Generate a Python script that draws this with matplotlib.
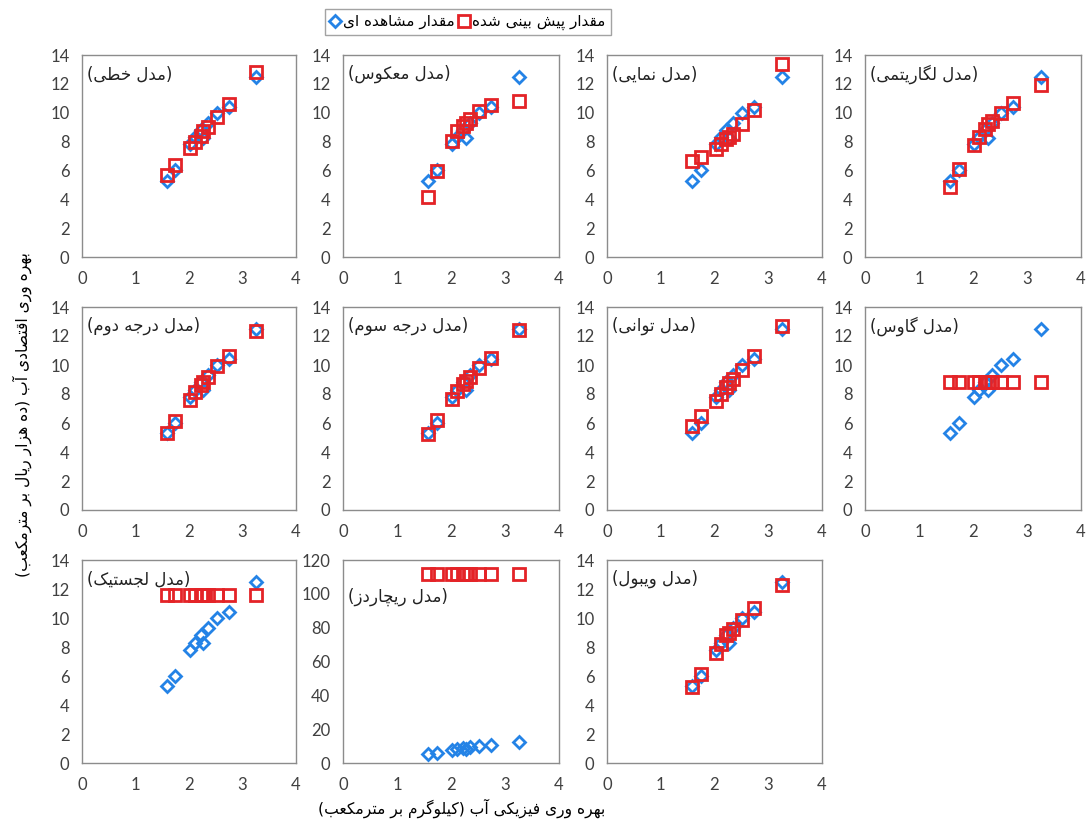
import matplotlib
matplotlib.use("Agg")
import matplotlib.pyplot as plt
from matplotlib.lines import Line2D

# contextual forms: isolated, final, initial, medial (right-joining letters have two)
FORMS = {
    'ا': ('\uFE8D', '\uFE8E'),
    'آ': ('\uFE81', '\uFE82'),
    'ب': ('\uFE8F', '\uFE90', '\uFE91', '\uFE92'),
    'پ': ('\uFB56', '\uFB57', '\uFB58', '\uFB59'),
    'ت': ('\uFE95', '\uFE96', '\uFE97', '\uFE98'),
    'ج': ('\uFE9D', '\uFE9E', '\uFE9F', '\uFEA0'),
    'چ': ('\uFB7A', '\uFB7B', '\uFB7C', '\uFB7D'),
    'خ': ('\uFEA5', '\uFEA6', '\uFEA7', '\uFEA8'),
    'د': ('\uFEA9', '\uFEAA'),
    'ر': ('\uFEAD', '\uFEAE'),
    'ز': ('\uFEAF', '\uFEB0'),
    'س': ('\uFEB1', '\uFEB2', '\uFEB3', '\uFEB4'),
    'ش': ('\uFEB5', '\uFEB6', '\uFEB7', '\uFEB8'),
    'ص': ('\uFEB9', '\uFEBA', '\uFEBB', '\uFEBC'),
    'ط': ('\uFEC1', '\uFEC2', '\uFEC3', '\uFEC4'),
    'ع': ('\uFEC9', '\uFECA', '\uFECB', '\uFECC'),
    'ف': ('\uFED1', '\uFED2', '\uFED3', '\uFED4'),
    'ق': ('\uFED5', '\uFED6', '\uFED7', '\uFED8'),
    'ک': ('\uFB8E', '\uFB8F', '\uFB90', '\uFB91'),
    'گ': ('\uFB92', '\uFB93', '\uFB94', '\uFB95'),
    'ل': ('\uFEDD', '\uFEDE', '\uFEDF', '\uFEE0'),
    'م': ('\uFEE1', '\uFEE2', '\uFEE3', '\uFEE4'),
    'ن': ('\uFEE5', '\uFEE6', '\uFEE7', '\uFEE8'),
    'و': ('\uFEED', '\uFEEE'),
    'ه': ('\uFEE9', '\uFEEA', '\uFEEB', '\uFEEC'),
    'ی': ('\uFBFC', '\uFBFD', '\uFBFE', '\uFBFF'),
}
MIRROR = {'(': ')', ')': '('}


def fa(text):
    """Shape Persian letters and return them in visual (left-to-right) order."""
    out = []
    for i, c in enumerate(text):
        f = FORMS.get(c)
        if f is None:
            out.append(c)
            continue
        prev = text[i - 1] if i > 0 else None
        nxt = text[i + 1] if i + 1 < len(text) else None
        jp = prev in FORMS and len(FORMS[prev]) == 4
        jn = len(f) == 4 and nxt in FORMS
        if jp and jn:
            out.append(f[3])
        elif jp:
            out.append(f[1])
        elif jn:
            out.append(f[2])
        else:
            out.append(f[0])
    return ''.join(MIRROR.get(c, c) for c in reversed(out))


# physical water productivity (x) and observed economic productivity (y)
x_obs = [1.58, 1.74, 2.02, 2.12, 2.22, 2.27, 2.35, 2.52, 2.74, 3.25]
y_obs = [5.3, 6.0, 7.8, 8.3, 8.8, 8.25, 9.3, 10.0, 10.4, 12.5]

model_names = [
    "مدل خطی", "مدل معکوس", "مدل نمایی", "مدل لگاریتمی",
    "مدل درجه دوم", "مدل درجه سوم", "مدل توانی", "مدل گاوس",
    "مدل لجستیک", "مدل ریچاردز", "مدل ویبول",
]

pred_linear = [5.7, 6.35, 7.55, 8.0, 8.4, 8.7, 9.0, 9.7, 10.6, 12.8]
pred_inverse = [4.15, 5.95, 8.05, 8.7, 9.05, 9.3, 9.55, 10.1, 10.55, 10.8]
pred_exponential = [6.65, 6.95, 7.5, 7.8, 8.15, 8.35, 8.55, 9.2, 10.2, 13.35]
pred_logarithmic = [4.85, 6.1, 7.75, 8.35, 8.9, 9.2, 9.45, 10.0, 10.65, 11.9]
pred_quadratic = [5.3, 6.15, 7.6, 8.15, 8.6, 8.85, 9.15, 9.9, 10.65, 12.35]
pred_cubic = [5.25, 6.2, 7.65, 8.2, 8.7, 8.9, 9.15, 9.8, 10.5, 12.4]
pred_power = [5.8, 6.45, 7.55, 8.0, 8.45, 8.75, 9.05, 9.65, 10.6, 12.7]
pred_gauss = [8.8, 8.8, 8.8, 8.8, 8.8, 8.8, 8.8, 8.8, 8.8, 8.8]
pred_logistic = [11.6, 11.6, 11.6, 11.6, 11.6, 11.6, 11.6, 11.6, 11.6, 11.6]
pred_richards = [112, 112, 112, 112, 112, 112, 112, 112, 112, 112]
pred_weibull = [5.25, 6.15, 7.6, 8.2, 8.8, 9.0, 9.25, 9.85, 10.7, 12.3]

predictions = [
    pred_linear, pred_inverse, pred_exponential, pred_logarithmic,
    pred_quadratic, pred_cubic, pred_power, pred_gauss,
    pred_logistic, pred_richards, pred_weibull,
]

BLUE = '#2483e6'
RED = '#e42327'
FA_FONT = ['DejaVu Sans']
NUM_FONT = ['Lato', 'DejaVu Sans']

W, H = 1086, 821
fig = plt.figure(figsize=(W / 100, H / 100), dpi=100, facecolor='white')

cols = [(82, 296), (343, 559), (607, 822), (865, 1081)]
rows = [(55, 257), (307, 510), (560, 763)]

for k, (name, pred) in enumerate(zip(model_names, predictions)):
    r, c = divmod(k, 4)
    x0, x1 = cols[c]
    y0, y1 = rows[r]
    ax = fig.add_axes([x0 / W, 1 - y1 / H, (x1 - x0) / W, (y1 - y0) / H])

    ax.plot(x_obs, y_obs, linestyle='none', marker='D', ms=6.5,
            mfc='none', mec=BLUE, mew=2, zorder=3)
    ax.plot(x_obs, pred, linestyle='none', marker='s', ms=8.5,
            mfc='none', mec=RED, mew=2, zorder=4)

    ax.set_xlim(0, 4)
    ax.set_xticks(range(0, 5))
    if name == "مدل ریچاردز":
        ax.set_ylim(0, 120)
        ax.set_yticks(range(0, 121, 20))
        ty = 0.82
    else:
        ax.set_ylim(0, 14)
        ax.set_yticks(range(0, 15, 2))
        ty = 0.905

    for s in ax.spines.values():
        s.set_color('#8c8c8c')
        s.set_linewidth(1)
    ax.tick_params(length=0, labelsize=12, colors='#404040', pad=9)
    ax.tick_params(axis='x', pad=10)
    for lab in ax.get_xticklabels() + ax.get_yticklabels():
        lab.set_family(NUM_FONT)

    ax.text(0.025, ty, fa("(" + name + ")"), transform=ax.transAxes,
            ha='left', va='center', fontsize=12, family=FA_FONT, color='#222222')

# legend across the top
handles = [
    Line2D([], [], linestyle='none', marker='D', ms=6, mfc='none', mec=BLUE, mew=2),
    Line2D([], [], linestyle='none', marker='s', ms=8, mfc='none', mec=RED, mew=2),
]
labels = [fa("مقدار مشاهده ای"), fa("مقدار پیش بینی شده")]
leg = fig.legend(handles, labels, ncol=2, loc='center',
                 bbox_to_anchor=(468 / W, 1 - 22 / H),
                 prop={'family': FA_FONT, 'size': 11},
                 frameon=True, fancybox=False, handlelength=0.6,
                 handletextpad=0.25, columnspacing=0.3, borderpad=0.35,
                 borderaxespad=0)
leg.get_frame().set_edgecolor('#8c8c8c')
leg.get_frame().set_linewidth(1)

fig.text(22 / W, 1 - 415 / H, fa("بهره وری اقتصادی آب (ده هزار ریال بر مترمکعب)"),
         rotation=90, ha='center', va='center', fontsize=11.2, family=FA_FONT)
fig.text(462 / W, 1 - 808 / H, fa("بهره وری فیزیکی آب (کیلوگرم بر مترمکعب)"),
         ha='center', va='center', fontsize=11.2, family=FA_FONT)

fig.savefig('out.png', dpi=100, facecolor='white')
